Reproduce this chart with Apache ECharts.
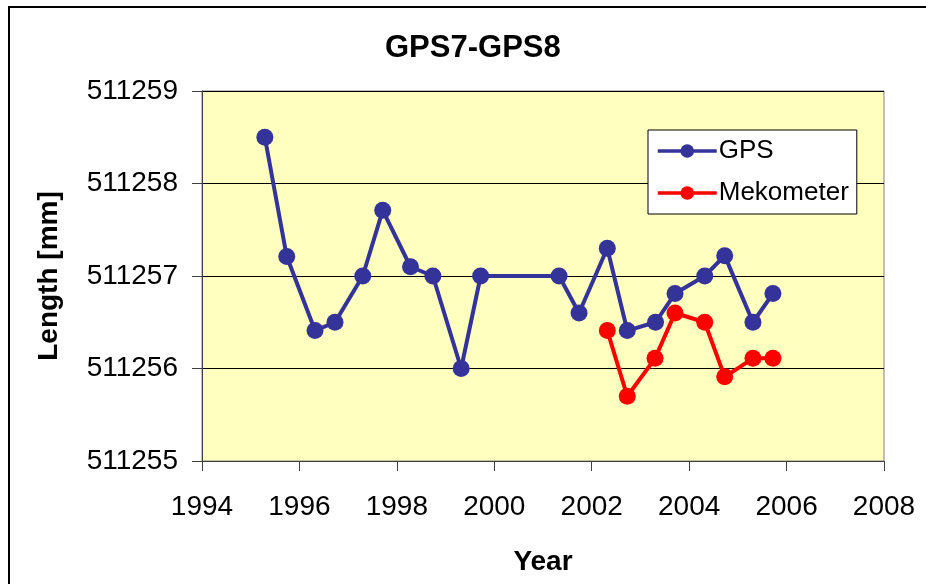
<!DOCTYPE html>
<html>
<head>
<meta charset="utf-8">
<script src="https://cdn.jsdelivr.net/npm/echarts@6/dist/echarts.min.js"></script>
<style>
  html, body { margin: 0; padding: 0; background: #ffffff; }
  #chart { width: 926px; height: 584px; }
</style>
</head>
<body>
<div id="chart"></div>
<script>
// Baseline length GPS7-GPS8 over time, two measurement techniques
const gpsYears = [1995.29, 1995.74, 1996.32, 1996.73, 1997.30, 1997.71, 1998.28, 1998.74, 1999.32, 1999.72,
                  2001.33, 2001.74, 2002.32, 2002.73, 2003.31, 2003.71, 2004.32, 2004.73, 2005.31, 2005.72];
const gpsLength = [511258.50, 511257.21, 511256.41, 511256.50, 511257.00, 511257.71, 511257.10, 511257.00, 511256.00, 511257.00,
                   511257.00, 511256.60, 511257.30, 511256.41, 511256.50, 511256.81, 511257.00, 511257.22, 511256.50, 511256.81];

const mekYears = [2002.32, 2002.73, 2003.30, 2003.71, 2004.32, 2004.73, 2005.31, 2005.72];
const mekLength = [511256.41, 511255.70, 511256.11, 511256.60, 511256.50, 511255.91, 511256.11, 511256.11];

const seriesNames = ['GPS', 'Mekometer'];
const chartTitle = 'GPS7-GPS8';
const xName = 'Year';
const yName = 'Length [mm]';

const FONT = '"Liberation Sans", Arial, sans-serif';

function pairs(xs, ys) {
  return xs.map((x, i) => [x, ys[i]]);
}

const chart = echarts.init(document.getElementById('chart'), null, { renderer: 'canvas' });

chart.setOption({
  animation: false,
  backgroundColor: '#ffffff',
  title: {
    text: chartTitle,
    left: 385,
    top: 33,
    padding: 0,
    textStyle: { fontFamily: FONT, fontSize: 31, fontWeight: 'bold', color: '#000000' }
  },
  graphic: [{
    type: 'rect',
    silent: true,
    z: 100,
    shape: { x: 9, y: 7, width: 1000, height: 1000 },
    style: { fill: 'none', stroke: '#000000', lineWidth: 2 }
  }],
  legend: {
    orient: 'vertical',
    left: 648,
    top: 130,
    width: 209,
    padding: [8, 8, 8, 8],
    itemGap: 16,
    itemWidth: 59,
    itemHeight: 17,
    backgroundColor: '#ffffff',
    borderColor: '#000000',
    borderWidth: 1,
    data: seriesNames,
    lineStyle: { width: 3.5 },
    textStyle: { fontFamily: FONT, fontSize: 26, color: '#000000', padding: [0, 0, 0, -3] }
  },
  grid: {
    left: 202,
    top: 91,
    width: 682,
    height: 370,
    show: true,
    backgroundColor: '#FFFFC0',
    borderColor: '#808080',
    borderWidth: 1
  },
  xAxis: {
    type: 'value',
    min: 1994,
    max: 2008,
    interval: 2,
    name: xName,
    nameLocation: 'middle',
    nameGap: 87,
    nameTextStyle: { fontFamily: FONT, fontSize: 28, fontWeight: 'bold', color: '#000000' },
    axisLine: { show: true, onZero: false, lineStyle: { color: '#404040', width: 1 } },
    axisTick: { show: true, inside: false, length: 10, lineStyle: { color: '#404040' } },
    axisLabel: { fontFamily: FONT, fontSize: 28, color: '#000000', margin: 32, formatter: v => String(v) },
    splitLine: { show: false }
  },
  yAxis: {
    type: 'value',
    min: 511255,
    max: 511259,
    interval: 1,
    name: yName,
    nameLocation: 'middle',
    nameGap: 139,
    nameTextStyle: { fontFamily: FONT, fontSize: 28, fontWeight: 'bold', color: '#000000' },
    axisLine: { show: true, lineStyle: { color: '#404040', width: 1 } },
    axisTick: { show: true, inside: false, length: 10, lineStyle: { color: '#404040' } },
    axisLabel: { fontFamily: FONT, fontSize: 28, color: '#000000', margin: 24, formatter: v => String(v) },
    splitLine: { show: true, lineStyle: { color: '#000000', width: 1 } }
  },
  series: [
    {
      name: seriesNames[0],
      type: 'line',
      data: pairs(gpsYears, gpsLength),
      symbol: 'circle',
      symbolSize: 17,
      itemStyle: { color: '#333399' },
      lineStyle: { color: '#333399', width: 4 },
      z: 3
    },
    {
      name: seriesNames[1],
      type: 'line',
      data: pairs(mekYears, mekLength),
      symbol: 'circle',
      symbolSize: 17,
      itemStyle: { color: '#FF0000' },
      lineStyle: { color: '#FF0000', width: 4 },
      z: 4
    }
  ]
});
</script>
</body>
</html>
